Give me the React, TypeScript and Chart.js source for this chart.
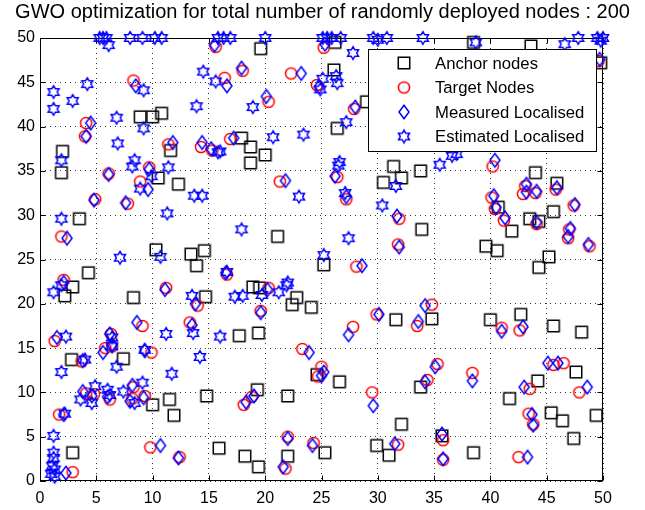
import React, { useEffect, useRef } from "react";
import { Chart, registerables } from "chart.js";

Chart.register(...registerables);

const TITLE = "GWO optimization for total number of randomly deployed nodes : 200";
const SERIES_LABELS = ["Anchor nodes", "Target Nodes", "Measured Localised", "Estimated Localised"];
const TICK_VALUES = [0, 5, 10, 15, 20, 25, 30, 35, 40, 45, 50];

const anchorX = [2.0,1.9,3.5,4.3,2.9,2.2,8.3,10.3,13.4,13.9,14.6,14.7,10.5,12.3,8.9,10.0,10.8,11.6,19.6,26.2,26.1,29.0,26.4,17.9,18.7,20.0,18.7,31.4,32.1,30.5,33.8,38.5,43.6,49.8,44.0,45.9,21.1,25.2,18.9,19.5,22.8,22.4,24.1,31.6,17.7,19.4,33.9,40.7,45.6,43.5,44.3,41.9,39.6,40.6,45.2,44.3,34.8,40.0,42.7,45.6,48.1,2.8,7.4,10.0,11.5,11.9,14.8,2.9,15.9,24.6,26.6,19.3,22.0,33.8,32.1,18.2,19.4,22.0,25.3,29.9,31.0,35.7,38.5,41.7,44.2,45.4,46.4,49.4,47.4,47.6];
const anchorY = [37.2,34.8,29.6,23.5,21.9,20.9,20.7,26.1,25.6,24.3,26.0,20.8,34.2,33.5,41.1,41.1,41.5,37.3,48.8,49.5,46.4,42.8,39.8,38.7,37.7,36.8,35.9,35.5,34.2,33.7,35.0,49.5,49.1,47.2,34.8,33.6,27.6,24.4,21.9,21.8,20.7,19.9,19.6,18.2,16.4,16.7,28.4,30.9,30.4,29.6,29.3,28.2,26.5,26.0,25.3,24.1,18.3,18.2,18.8,17.5,16.8,13.7,13.8,8.6,9.2,7.4,9.6,3.2,3.7,12.0,11.2,10.3,9.6,10.6,6.4,2.8,1.6,2.8,3.2,4.0,2.9,5.1,3.2,9.3,11.3,7.7,6.8,7.4,4.8,12.3];

const targetX = [15.6,8.3,16.4,4.1,4.0,11.4,14.3,15.3,16.9,6.1,8.9,9.7,25.2,18.0,22.3,24.6,20.3,27.9,21.3,26.4,40.2,43.1,49.6,4.9,7.8,1.9,2.1,11.2,14.0,13.3,9.1,6.3,1.3,16.6,27.2,31.9,31.8,28.1,20.3,19.6,29.9,27.8,33.5,42.9,44.0,45.8,40.1,40.4,41.2,44.1,47.4,47.0,46.9,48.8,34.8,41.0,42.6,5.8,6.4,9.9,3.7,4.1,4.8,6.2,8.3,9.3,8.2,1.7,9.8,12.4,2.9,23.3,25.0,24.7,29.5,18.8,18.1,22.0,24.3,21.8,31.8,35.3,34.4,38.4,35.8,35.8,43.5,43.4,43.8,42.5,45.6,46.5,47.9];
const targetY = [49.0,45.2,45.5,40.4,38.9,38.0,37.7,37.3,38.6,34.7,33.8,35.4,48.9,46.3,46.0,44.7,42.8,42.0,33.8,34.3,35.5,33.3,47.4,31.8,31.3,27.6,22.7,21.8,19.8,17.9,17.5,16.6,15.8,23.3,31.8,29.6,26.7,24.2,21.8,19.2,18.8,17.4,17.5,32.4,32.5,32.9,32.0,30.7,29.4,29.0,31.1,28.4,27.4,26.5,19.9,17.3,17.0,15.0,15.2,14.5,13.5,9.9,9.8,9.2,10.6,9.6,9.3,7.5,3.8,2.7,1.0,14.9,12.9,11.8,10.0,9.5,8.6,5.0,4.3,1.4,4.1,13.2,11.4,12.2,4.6,2.4,10.4,7.6,6.4,2.7,13.1,13.3,10.0];

const measuredX = [15.5,8.5,16.6,4.5,4.1,11.8,14.4,15.2,17.2,6.1,9.6,9.7,25.3,17.9,23.2,24.8,20.1,28.0,21.8,26.2,40.4,43.2,49.7,4.8,7.6,2.4,2.1,11.1,13.8,13.5,8.6,6.2,1.5,16.5,27.2,31.7,31.9,28.6,20.2,19.6,30.1,27.4,33.6,43.2,44.1,45.9,40.3,40.5,41.3,44.1,47.5,47.1,46.9,48.7,34.2,41.0,42.9,5.6,6.4,9.3,3.8,3.8,4.6,6.0,8.2,9.2,8.0,2.1,10.7,12.3,2.3,23.9,25.2,25.0,29.6,19.0,18.3,22.0,24.2,21.6,31.5,35.1,34.2,38.4,35.7,35.8,43.0,43.7,43.8,43.3,45.1,46.0,48.6];
const measuredY = [49.2,44.6,44.6,40.4,38.9,38.2,38.2,37.5,38.7,34.6,32.9,35.2,49.3,46.6,46.0,44.5,43.4,42.2,33.9,34.4,36.2,33.5,47.6,31.7,31.4,27.4,22.4,21.6,20.0,17.6,17.9,16.6,16.2,23.5,32.1,29.9,26.4,24.3,21.6,19.0,18.8,16.5,18.0,32.6,32.7,33.1,32.2,30.9,29.7,29.2,31.2,28.5,27.6,26.7,19.8,16.9,17.4,14.5,15.4,14.7,13.6,10.1,9.6,9.5,10.8,9.4,9.0,7.5,4.0,2.6,0.9,14.5,12.3,11.9,8.5,9.6,8.9,4.8,4.0,1.6,4.2,12.9,11.2,11.3,5.3,2.5,10.6,7.5,6.3,2.7,13.3,13.3,10.6];

const estimatedX = [5.3,5.6,5.9,6.1,8.0,9.1,10.2,10.8,15.8,16.3,16.9,20.0,25.1,25.5,25.9,26.7,29.6,30.0,30.8,34.0,38.7,46.6,47.8,49.5,49.8,50.0,1.2,1.2,2.9,4.2,14.5,15.6,9.2,13.9,6.8,9.2,6.9,1.9,8.4,8.2,11.4,15.8,9.9,27.8,25.1,24.9,26.3,26.4,18.9,27.2,20.7,23.4,26.6,26.5,31.6,16.0,35.5,36.6,37.0,1.9,7.1,10.7,11.3,13.7,14.4,1.2,1.9,13.5,13.6,11.2,16.0,2.3,8.9,23.0,27.1,30.4,17.9,27.4,25.2,16.6,17.3,18.0,21.2,21.9,22.0,19.7,6.4,6.8,9.3,14.2,11.7,1.9,4.0,3.6,4.6,4.9,6.0,6.2,7.4,9.1,8.4,2.2,1.2,1.2,1.2,1.1,1.3,1.0,1.3,6.4];
const estimatedY = [50,50,50,49.2,50,50,50,50,50,50,50,50,50,50,50,50,50,49.8,50,50,49.5,49.3,50,50,49.7,50,43.9,42.0,42.9,44.8,46.2,45.1,44.1,42.3,41.0,39.8,38.1,36.2,36.2,35.5,35.4,37.1,34.4,48.3,45.4,44.2,45.7,44.9,42.2,40.5,38.8,39.1,36.0,35.6,33.3,37.2,35.7,36.7,36.9,29.6,25.2,25.3,30.2,32.2,32.2,21.3,22.1,20.9,16.7,16.6,16.3,16.3,33.0,32.1,32.5,31.1,28.4,27.4,25.5,23.6,20.8,20.9,21.3,22.1,22.4,21.0,16.2,12.9,14.8,14.0,12.1,12.3,13.7,9.2,8.8,10.7,10.3,9.7,10.1,11.1,8.8,7.6,5.1,3.2,2.6,1.7,1.3,0.8,0.5,15.2];

const FONT = "'Liberation Sans', Arial, Helvetica, sans-serif";

function toPoints(xs: number[], ys: number[]) {
  return xs.map((x, i) => ({ x, y: ys[i] }));
}

function makeMarker(kind: string): HTMLCanvasElement {
  const c = document.createElement("canvas");
  c.width = 20;
  c.height = 20;
  const ctx = c.getContext("2d")!;
  ctx.lineWidth = 1.5;
  ctx.beginPath();
  if (kind === "square") {
    ctx.strokeStyle = "#000000";
    ctx.rect(4.25, 4.25, 11.5, 11.5);
  } else if (kind === "circle") {
    ctx.strokeStyle = "#ff0000";
    ctx.arc(10, 10, 5.6, 0, Math.PI * 2);
  } else if (kind === "diamond") {
    ctx.strokeStyle = "#0000ff";
    ctx.moveTo(10, 3.3);
    ctx.lineTo(15, 10);
    ctx.lineTo(10, 16.7);
    ctx.lineTo(5, 10);
    ctx.closePath();
  } else {
    ctx.strokeStyle = "#0000ff";
    const R = 6.3;
    const r = R / Math.sqrt(3);
    for (let k = 0; k < 12; k++) {
      const a = -Math.PI / 2 + (k * Math.PI) / 6;
      const rad = k % 2 === 0 ? R : r;
      const px = 10 + rad * Math.cos(a);
      const py = 10 + rad * Math.sin(a);
      if (k === 0) ctx.moveTo(px, py);
      else ctx.lineTo(px, py);
    }
    ctx.closePath();
  }
  ctx.stroke();
  return c;
}

export default function App() {
  const ref = useRef<HTMLCanvasElement | null>(null);

  useEffect(() => {
    if (!ref.current) return;
    const markers = [makeMarker("square"), makeMarker("circle"), makeMarker("diamond"), makeMarker("star")];

    const framePlugin = {
      id: "matlabFrame",
      beforeDatasetsDraw(chart: any) {
        const { ctx, chartArea } = chart;
        const xs = chart.scales.x;
        const ys = chart.scales.y;
        ctx.save();
        ctx.strokeStyle = "#000";
        ctx.lineWidth = 1;
        const L = Math.round(chartArea.left) + 0.5;
        const R = Math.round(chartArea.right) - 0.5;
        const T = Math.round(chartArea.top) + 0.5;
        const B = Math.round(chartArea.bottom) - 0.5;
        ctx.strokeRect(L, T, R - L, B - T);
        const tl = 5;
        ctx.beginPath();
        TICK_VALUES.forEach((v) => {
          const px = Math.round(xs.getPixelForValue(v)) + 0.5;
          ctx.moveTo(px, B);
          ctx.lineTo(px, B - tl);
          ctx.moveTo(px, T);
          ctx.lineTo(px, T + tl);
          const py = Math.round(ys.getPixelForValue(v)) + 0.5;
          ctx.moveTo(L, py);
          ctx.lineTo(L + tl, py);
          ctx.moveTo(R, py);
          ctx.lineTo(R - tl, py);
        });
        ctx.stroke();
        ctx.restore();
      },
      afterDatasetsDraw(chart: any) {
        const { ctx, chartArea } = chart;
        const boxL = chartArea.left + 328;
        const boxT = chartArea.top + 11;
        const boxW = 228;
        const boxH = 102;
        ctx.save();
        ctx.fillStyle = "#ffffff";
        ctx.fillRect(boxL, boxT, boxW, boxH);
        ctx.strokeStyle = "#000";
        ctx.lineWidth = 1;
        ctx.strokeRect(Math.round(boxL) + 0.5, Math.round(boxT) + 0.5, boxW, boxH);
        ctx.font = `16.7px ${FONT}`;
        ctx.fillStyle = "#000";
        ctx.textBaseline = "middle";
        ctx.textAlign = "left";
        chart.data.datasets.forEach((ds: any, i: number) => {
          const cy = boxT + 14 + i * 24.5;
          const img = markers[i];
          ctx.drawImage(img, boxL + 36 - img.width / 2, cy - img.height / 2);
          ctx.fillText(ds.label, boxL + 67, cy + 1);
        });
        ctx.restore();
      },
    };

    const chart = new Chart(ref.current, {
      type: "scatter",
      data: {
        datasets: [
          { label: SERIES_LABELS[0], data: toPoints(anchorX, anchorY), pointStyle: markers[0] as any, clip: false as any, order: 4 },
          { label: SERIES_LABELS[1], data: toPoints(targetX, targetY), pointStyle: markers[1] as any, clip: false as any, order: 3 },
          { label: SERIES_LABELS[2], data: toPoints(measuredX, measuredY), pointStyle: markers[2] as any, clip: false as any, order: 2 },
          { label: SERIES_LABELS[3], data: toPoints(estimatedX, estimatedY), pointStyle: markers[3] as any, clip: false as any, order: 1 },
        ],
      },
      options: {
        animation: false,
        responsive: false,
        events: [],
        layout: { padding: { left: 0, right: 0, top: 0, bottom: 0 } },
        plugins: {
          legend: { display: false },
          tooltip: { enabled: false },
          title: {
            display: true,
            text: TITLE,
            color: "#000",
            font: { family: FONT, size: 20, weight: "normal", lineHeight: 1 },
            padding: { top: 2, bottom: 16 },
          },
        },
        scales: {
          x: {
            type: "linear",
            min: 0,
            max: 50,
            afterBuildTicks: (s: any) => { s.ticks = TICK_VALUES.map((v) => ({ value: v })); },
            afterFit: (s: any) => { s.height = 29; },
            ticks: { color: "#000", font: { family: FONT, size: 16 }, padding: 8, maxRotation: 0, autoSkip: false },
            grid: { color: "#333", lineWidth: 1, drawTicks: false },
            border: { display: false, dash: [1, 4] },
          },
          y: {
            type: "linear",
            min: 0,
            max: 50,
            afterBuildTicks: (s: any) => { s.ticks = TICK_VALUES.map((v) => ({ value: v })); },
            afterFit: (s: any) => { s.width = 40; },
            ticks: { color: "#000", font: { family: FONT, size: 16 }, padding: 5, autoSkip: false },
            grid: { color: "#333", lineWidth: 1, drawTicks: false },
            border: { display: false, dash: [1, 4] },
          },
          yRight: {
            type: "linear",
            position: "right",
            min: 0,
            max: 50,
            afterFit: (s: any) => { s.width = 42; },
            ticks: { display: false },
            grid: { display: false, drawTicks: false },
            border: { display: false },
          },
        },
      },
      plugins: [framePlugin],
    } as any);

    return () => chart.destroy();
  }, []);

  return (
    <div style={{ position: "absolute", left: 0, top: 0, width: 645, height: 510, background: "#fff" }}>
      <canvas ref={ref} width={645} height={510} style={{ display: "block", width: 645, height: 510 }} />
    </div>
  );
}
